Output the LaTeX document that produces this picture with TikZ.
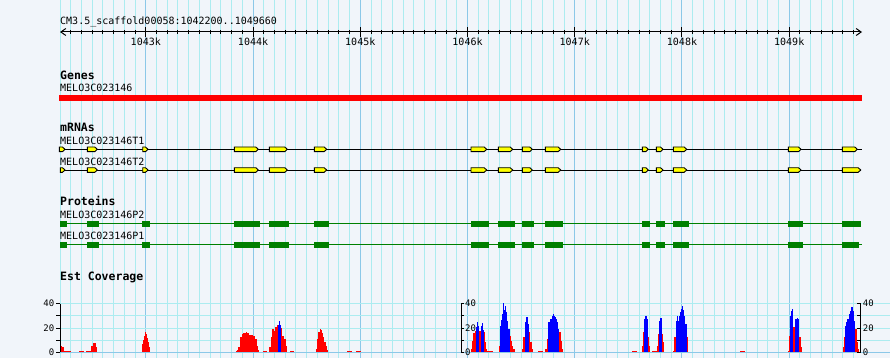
\documentclass[tikz,border=0pt]{standalone}
\usepackage{fontspec}
\setmonofont{DejaVu Sans Mono}
\usetikzlibrary{arrows.meta,positioning}
\definecolor{BrowseBg}{RGB}{241,245,250}
\definecolor{GridMinor}{RGB}{172,236,240}
\definecolor{GridMajor}{RGB}{140,200,232}
\definecolor{GeneRed}{RGB}{255,0,0}
\definecolor{ExonYellow}{RGB}{255,255,0}
\definecolor{ProtGreen}{RGB}{0,128,0}
\definecolor{EstBlue}{RGB}{0,0,255}
\tikzset{
  gridminor/.style={draw=GridMinor, line width=1pt},
  gridmajor/.style={draw=GridMajor, line width=1pt},
  rulerline/.style={draw=black, line width=1pt},
  tracktitle/.style={anchor=base west, inner sep=0pt, font=\ttfamily\bfseries\fontsize{11.5}{13}\selectfont},
  featlabel/.style={anchor=base west, inner sep=0pt, font=\ttfamily\fontsize{10}{12}\selectfont},
  ticklabel/.style={anchor=base, inner sep=0pt, font=\ttfamily\fontsize{10}{12}\selectfont},
  axislabel/.style={inner sep=0pt, font=\ttfamily\fontsize{9}{10}\selectfont},
  mrnaline/.style={draw=black, line width=1pt},
  protline/.style={draw=ProtGreen, line width=1pt},
  exonbox/.style={fill=ExonYellow, draw=black, line width=0.9pt, line join=miter},
  cdsbox/.style={fill=ProtGreen},
  estred/.style={fill=GeneRed},
  estblue/.style={fill=EstBlue}
}

\begin{document}
\begin{tikzpicture}[x=1pt, y=-1pt]
  \useasboundingbox (0,0) rectangle (890,358);
  \fill[BrowseBg] (0,0) rectangle (890,358);

  \foreach \i in {0,...,74}{
    \pgfmathsetmacro\gx{60+\i*10.7239}
    \draw[gridminor] (\gx,0) -- (\gx,358);
  }
  \foreach \kk in {3,...,9}{
    \pgfmathsetmacro\gx{60+(10*\kk-22)*10.7239}
    \draw[gridmajor] (\gx,0) -- (\gx,358);
  }
  \foreach \v in {10,20,30,40}
    \draw[gridminor] (60,{352.3-1.215*\v}) -- (890,{352.3-1.215*\v});
  \draw[gridmajor] (60,352.3) -- (890,352.3);

  \node[featlabel] (title) at (60,25) {CM3.5\_scaffold00058:1042200..1049660};
  \coordinate (rl) at (60,32);
  \coordinate (rr) at (862,32);
  \draw[rulerline, {Straight Barb[length=5pt,width=7pt]}-{Straight Barb[length=5pt,width=7pt]}] (rl) -- (rr);
  \foreach \i in {1,...,74}{
    \pgfmathsetmacro\gx{60+\i*10.7239}
    \draw[rulerline] (\gx,30) -- (\gx,34.5);
  }
  \foreach \kk in {3,...,9}{
    \pgfmathsetmacro\gx{60+(10*\kk-22)*10.7239}
    \draw[rulerline] (\gx,27.5) -- (\gx,37);
    \node[ticklabel] (tick\kk) at (\gx,45.7) {104\kk k};
  }

  \node[tracktitle] (genes) at (60,80) {Genes};
  \node[featlabel] (gene1) at (60,92) {MELO3C023146};
  \fill[GeneRed] (59,95) rectangle (862,100.7);

  \node[tracktitle] (mrnas) at (60,132) {mRNAs};
  \node[featlabel] (t1lab) at (60,144.3) {MELO3C023146T1};
  \node[featlabel] (t2lab) at (60,165) {MELO3C023146T2};
  \foreach \n/\ty/\xs/\xe/\xl in {t1/149.3/59.3/857.3/861.7, t2/170/60.3/860.7/860.7}{
    \coordinate (\n-start) at (60,\ty);
    \coordinate (\n-end) at (\xl,\ty);
    \draw[mrnaline] (\n-start) -- (\n-end);
    \foreach \xa/\xb in {\xs/65, 87.3/97.3, 142.7/148, 234.3/258.3, 269.3/287.3, 314.3/326.7,
        471/486.7, 498.3/512.7, 522.3/532.3, 545.3/560.7, 642.3/648.3, 656.3/663,
        673.3/686.7, 788.3/801, 842.3/\xe}
      \draw[exonbox] (\xa,\ty-2.3) -- (\xb-2.5,\ty-2.3) -- (\xb,\ty) -- (\xb-2.5,\ty+2.3) -- (\xa,\ty+2.3) -- cycle;
  }

  \node[tracktitle] (proteins) at (60,205.7) {Proteins};
  \node[featlabel] (p2lab) at (60,218.3) {MELO3C023146P2};
  \node[featlabel] (p1lab) at (60,239) {MELO3C023146P1};
  \foreach \n/\ty/\xe/\xl in {p2/223.6/861/861, p1/244.7/859/861.7}{
    \coordinate (\n-start) at (60,\ty);
    \coordinate (\n-end) at (\xl,\ty);
    \draw[protline] (\n-start) -- (\n-end);
    \foreach \xa/\xb in {60/67, 87/99, 142/150, 234.3/260, 269/288.7, 314/329,
        471/489, 498/515, 522/534, 545/563, 642/650, 656/665,
        673/689, 788/803, 842/\xe}
      \fill[cdsbox] (\xa,\ty-2.9) rectangle (\xb,\ty+2.9);
  }

  \node[tracktitle] (estcov) at (60,280) {Est Coverage};
  \begin{scope}[shift={(0,352.3)}, yscale=-1]
    \foreach \xa/\xb/\h in {60.7/62.3/6.7, 62.3/64.3/5, 64.3/70.7/1.7, 79.3/84.3/1.7,
        86/91/1.7, 91/92.7/6.7, 92.7/96/9.7, 96/96.7/5,
        142/143/8.3, 143/144/12.3, 144/145/16.7, 145/146/20.7, 146/147/18.3, 147/148/14, 148/149/10, 149/150/5,
        236/237/1, 237/238.3/2.3, 238.3/240/5, 240/241.7/15, 241.7/243.3/18.3, 243.3/245.7/19.3,
        245.7/247.3/20.7, 247.3/249/19.3, 249/253.3/17.7, 253.3/255/16.7, 255/256.7/13.3, 256.7/258.3/6.7, 258.3/259.3/2.3,
        262.7/266.7/1.7,
        269.3/270.7/5, 270.7/272.3/15, 272.3/273.7/23.3, 273.7/275/21.7, 275/276.7/25, 276.7/280.7/27,
        280.7/282.3/24, 282.3/284/16.7, 284/285.7/13.3, 285.7/287.3/6.7,
        290/294/1.7,
        316/317.3/3.3, 317.3/318.3/13.3, 318.3/319.7/20.7, 319.7/320.7/23.3, 320.7/321.7/22.3,
        321.7/323/19.3, 323/324.3/15, 324.3/325.7/10, 325.7/327/6, 327/328.3/2.3,
        346.7/351.7/1.7, 356/360.7/1.7,
        471.3/472.3/3.3, 472.3/473.3/11.7, 473.3/474.7/19.3, 474.7/481/21.7, 481/483.7/22,
        483.7/485/20, 485/486/10, 486/487.3/3.3, 487.3/488.3/1, 488.3/492.7/1,
        499.3/500.3/6.7, 500.3/509.7/22, 509.7/510.7/16.7, 510.7/512/11.7, 512/513.3/6.7, 513.3/515/3.3,
        521.7/523.3/3.3, 523.3/524.7/15, 524.7/530.3/20, 530.3/531.7/10, 531.7/533.3/3.3,
        538.3/543.3/1,
        545/546.7/3.3, 546.7/547.7/13.3, 547.7/561/20, 561/562.3/11.7, 562.3/563.3/3.3,
        632.3/637.3/1,
        642.3/643.3/6.7, 643.3/647.7/20, 647.7/648.7/15, 648.7/650/6,
        652.3/656.7/1,
        656.7/658/6.7, 658/663/18.3, 663/664/10,
        673.3/674.3/1.7, 674.3/675.7/15, 675.7/686.7/20, 686.7/688.3/15,
        740/745/1,
        787.7/789/1.7, 789/793.3/16.7, 793.3/795.3/25, 795.3/799.3/16, 799.3/800.7/15, 800.7/801.7/5,
        842.7/844/5, 844/855.3/15, 855.3/856.7/23.3, 856.7/857.7/10, 857.7/858.3/3.3}
      \fill[estred] (\xa,0) rectangle (\xb,\h);
    \foreach \xa/\xb/\h in {277.7/278.7/27.3, 278.7/279.7/31.7, 279.7/280.7/27.7,
        475.7/476.7/25, 476.7/478/30.7, 478/479/26, 481/482/26, 482/483/29.3, 483/483.7/22,
        500.3/501.3/26.7, 501.3/502.3/32.7, 502.3/503.3/38.3, 503.3/504.3/49.3, 504.3/505.3/42.3,
        505.3/506.3/46.7, 506.3/507.3/40, 507.3/508.3/31.7, 508.3/509.7/23.3,
        524.7/525.7/30, 525.7/527.7/35, 527.7/529/28.3,
        548.3/550/30, 550/551.7/33.3, 551.7/552.7/36.7, 552.7/553.7/38.3, 553.7/555/36.7,
        555/556/35, 556/557/33.3, 557/558.3/30, 558.3/559.3/23.3,
        644.3/645.3/33.3, 645.3/646.7/36.7, 646.7/647.7/33.3,
        659/660.3/31.7, 660.3/661.7/34,
        675.7/676.7/31.7, 676.7/677.7/36, 677.7/679/31.7, 679/680/36.7, 680/681/40.7,
        681/682.3/43.3, 682.3/683.3/46.7, 683.3/684.3/42.7, 684.3/685.3/36.7, 685.3/686.7/28.3,
        790/791.3/36.7, 791.3/792.3/41.7, 792.3/793.3/43.3, 795.3/796.7/33.3, 796.7/798/34, 798/799.3/33.3,
        845/846/26.7, 846/847.3/30, 847.3/848.7/33.3, 848.7/850/38.3, 850/851.3/41.7,
        851.3/852.7/45, 852.7/854/41.7, 854/855.3/31.7}
      \fill[estblue] (\xa,0) rectangle (\xb,\h);
  \end{scope}

  \foreach \n/\ax/\tx in {l/60/56, m/461/464, r/860.7/857}{
    \coordinate (\n-axtop) at (\ax,303.7);
    \coordinate (\n-axbot) at (\ax,352.3);
    \draw[rulerline] (\n-axtop) -- (\n-axbot);
    \foreach \v in {0,10,20,30,40}
      \draw[rulerline] (\ax,{352.3-1.215*\v}) -- (\tx,{352.3-1.215*\v});
  }
  \foreach \v in {0,20,40}{
    \coordinate (lt\v) at (56,{352.3-1.215*\v});
    \coordinate (mt\v) at (464,{352.3-1.215*\v});
    \coordinate (rt\v) at (860.7,{352.3-1.215*\v});
    \node[axislabel, left=1.5pt of lt\v] (lax\v) {\v};
    \node[axislabel, right=1pt of mt\v] (max\v) {\v};
    \node[axislabel, right=2pt of rt\v] (rax\v) {\v};
  }
\end{tikzpicture}
\end{document}
